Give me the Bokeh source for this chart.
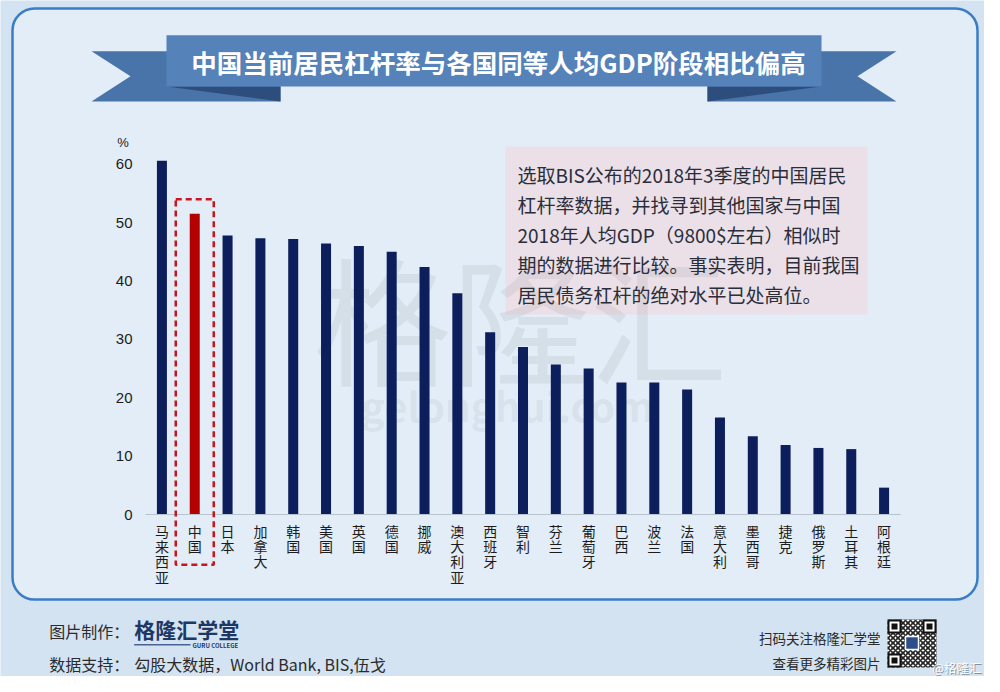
from bokeh.plotting import figure
from bokeh.models import (Range1d, LinearScale, BoxAnnotation,
                          Label, FixedTicker, ColumnDataSource)
from bokeh.embed import file_html
from bokeh.resources import INLINE

# ---------------- data ----------------
countries = ["马来西亚", "中国", "日本", "加拿大", "韩国", "美国", "英国", "德国", "挪威",
             "澳大利亚", "西班牙", "智利", "芬兰", "葡萄牙", "巴西", "波兰", "法国",
             "意大利", "墨西哥", "捷克", "俄罗斯", "土耳其", "阿根廷"]
leverage = [60.6, 51.5, 47.8, 47.3, 47.2, 46.4, 46.0, 45.0, 42.4, 37.9, 31.2, 28.7,
            25.7, 25.0, 22.6, 22.6, 21.4, 16.6, 13.4, 11.9, 11.4, 11.2, 4.6]
y_ticks = [0, 10, 20, 30, 40, 50, 60]
highlight = "中国"
title_text = "中国当前居民杠杆率与各国同等人均GDP阶段相比偏高"
note_lines = ["选取BIS公布的2018年3季度的中国居民",
              "杠杆率数据，并找寻到其他国家与中国",
              "2018年人均GDP（9800$左右）相似时",
              "期的数据进行比较。事实表明，目前我国",
              "居民债务杠杆的绝对水平已处高位。"]

# ---------------- layout ----------------
W, H = 984, 676
OFF = 8                      # page margin; decoration coords are reference-image px
PLOT_L, PLOT_R, PLOT_B = 145, 900, 514     # plot area inside canvas (px)
PX_PER_UNIT = (522 - 171.7) / 60.0
FONT = "Noto Sans CJK SC"
NAVY = "#0c1f5c"
RED = "#b40000"
OUTER = "#d3e3f1"
INNER = "#e2edf7"

n = len(countries)
idx = list(range(n))
unit = (PLOT_R - PLOT_L) / n
x_start = -0.5 - PLOT_L / unit
x_end = -0.5 + (W - PLOT_L) / unit
y_start = -(H - PLOT_B) / PX_PER_UNIT
y_end = PLOT_B / PX_PER_UNIT

p = figure(width=W, height=H, x_range=Range1d(x_start, x_end),
           y_range=Range1d(y_start, y_end), output_backend="svg",
           toolbar_location=None, min_border=0)
p.extra_x_ranges = {"px": Range1d(OFF, W + OFF)}
p.extra_y_ranges = {"py": Range1d(H + OFF, OFF)}
p.extra_x_scales = {"px": LinearScale()}
p.extra_y_scales = {"py": LinearScale()}

p.background_fill_color = OUTER
p.border_fill_color = OUTER
p.outline_line_color = None
p.xgrid.grid_line_color = None
p.ygrid.grid_line_color = None

PXN = dict(x_range_name="px", y_range_name="py")


def box(l, r, t, b, **kw):
    p.add_layout(BoxAnnotation(left=l, right=r, top=t, bottom=b, **PXN, **kw))


def shape(xs, ys, color, level="glyph"):
    p.patch(xs, ys, fill_color=color, line_color=None, level=level, **PXN)


def rectq(l, r, t, b, color, level="glyph", **kw):
    p.quad(left=[l], right=[r], top=[t], bottom=[b], fill_color=color,
           line_color=None, level=level, **PXN, **kw)


def label(x, y, text, size, color="#222222", align="left", style="normal", alpha=1.0,
          font=FONT, level="annotation"):
    p.add_layout(Label(x=x, y=y, text=text, text_align=align, text_baseline="middle",
                       text_font=font, text_font_size=f"{size}px", text_color=color,
                       text_font_style=style, text_alpha=alpha, level=level, **PXN))


# rounded panel
box(20, 985, 16, 607, fill_color=INNER, fill_alpha=1, line_color="#3b7cc6",
    line_alpha=1, line_width=2.5, border_radius=22, level="underlay")

# note box
box(513, 875, 154, 322, fill_color="#ebdfe7", fill_alpha=0.95, line_color=None,
    level="underlay")

# watermark
label(528, 322, "格隆汇", 138, color="#7d7d7d", align="center", alpha=0.12, level="underlay")
label(515, 412, "gelonghui.com", 40, color="#7d7d7d", align="center", alpha=0.11,
      style="bold", level="underlay")

# banner (ribbon tails, folds, main band)
shape([99, 288, 288, 99, 138], [58.7, 58.7, 109, 109, 83.8], "#4874a9")
shape([904, 715, 715, 904, 865], [58.7, 58.7, 109, 109, 83.8], "#4874a9")
shape([174, 288, 288], [94, 94, 109], "#2d4d7c")
shape([829, 715, 715], [94, 94, 109], "#2d4d7c")
rectq(174, 829, 42.7, 94, "#5582b9")
label(506, 68.5, title_text, 25.5, color="#ffffff", align="center", style="bold")

# bars
colors = [RED if c == highlight else NAVY for c in countries]
src = ColumnDataSource(dict(x=idx, value=leverage, color=colors))
p.vbar(x="x", top="value", width=0.305, fill_color="color", line_color=None,
       source=src)

# highlight dashed box
cx = PLOT_L + OFF + (countries.index(highlight) + 0.5) * unit
box(cx - 19, cx + 19, 206.7, 572.3, fill_color=None, line_color="#c8161d",
    line_alpha=1, line_width=2.5, line_dash="6 4")

# axes (drawn at fixed data locations inside the full-canvas frame)
p.yaxis.fixed_location = -0.5
p.yaxis.ticker = FixedTicker(ticks=y_ticks)
p.yaxis.axis_line_color = None
p.yaxis.major_tick_line_color = None
p.yaxis.minor_tick_line_color = None
p.yaxis.major_tick_out = 0
p.yaxis.minor_tick_out = 0
p.yaxis.major_label_standoff = 13
p.yaxis.major_label_text_font = "Liberation Sans"
p.yaxis.major_label_text_font_size = "15px"
p.yaxis.major_label_text_color = "#1c1c1c"

p.xaxis.fixed_location = 0
p.xaxis.bounds = (-0.5, n - 0.5)
p.xaxis.ticker = FixedTicker(ticks=idx)
p.xaxis.major_label_overrides = {i: "\n".join(c) for i, c in zip(idx, countries)}
p.xaxis.major_tick_line_color = None
p.xaxis.minor_tick_line_color = None
p.xaxis.major_tick_out = 0
p.xaxis.minor_tick_out = 0
p.xaxis.axis_line_color = "#b9c3cd"
p.xaxis.axis_line_width = 1
p.xaxis.major_label_standoff = 6
p.xaxis.major_label_text_font = FONT
p.xaxis.major_label_text_font_size = "14px"
p.xaxis.major_label_text_line_height = 0.77
p.xaxis.major_label_text_color = "#1c1c1c"

label(130.5, 150, "%", 13, color="#1c1c1c", align="center", font="Liberation Sans")

# note text
for i, line in enumerate(note_lines):
    label(525, 181.5 + 30 * i, line, 19, color="#2a2d3a")

# footer
label(56.7, 638, "图片制作：", 16, color="#2b2b2b")
label(141.7, 636.5, "格隆汇学堂", 21, color="#1e3866", style="bold")
rectq(141.7, 198, 651.6, 653.0, "#4a6394")
label(200, 652.5, "GURU COLLEGE", 6, color="#1e3866", style="bold")
label(56.7, 671.7, "数据支持：", 16, color="#2b2b2b")
label(141.7, 671.7, "勾股大数据，World Bank, BIS,伍戈", 16, color="#2b2b2b")
label(888, 645, "扫码关注格隆汇学堂", 13.5, color="#2b2b2b", align="right")
label(888, 670, "查看更多精彩图片", 13.5, color="#2b2b2b", align="right")

# QR-like mark
box(895, 944, 627, 675, fill_color="#ffffff", fill_alpha=1, line_color=None,
    hatch_pattern="x", hatch_color="#222222", hatch_scale=5, hatch_weight=1.6)
for qx, qy in [(895, 627), (930, 627), (895, 661)]:
    box(qx, qx + 14, qy, qy + 14, fill_color="#111111", fill_alpha=1, line_color=None)
    box(qx + 2, qx + 12, qy + 2, qy + 12, fill_color="#ffffff", fill_alpha=1, line_color=None)
    box(qx + 4, qx + 10, qy + 4, qy + 10, fill_color="#111111", fill_alpha=1, line_color=None)
box(913, 926, 644, 657, fill_color="#2c4f8c", fill_alpha=1, line_color="#ffffff",
    line_alpha=1, line_width=1.5)
label(990, 675.5, "@格隆汇", 12.5, color="#6f7c8a", alpha=0.8, align="right")
label(989, 674.5, "@格隆汇", 12.5, color="#ffffff", align="right")

open("out.html", "w").write(file_html(p, INLINE))
